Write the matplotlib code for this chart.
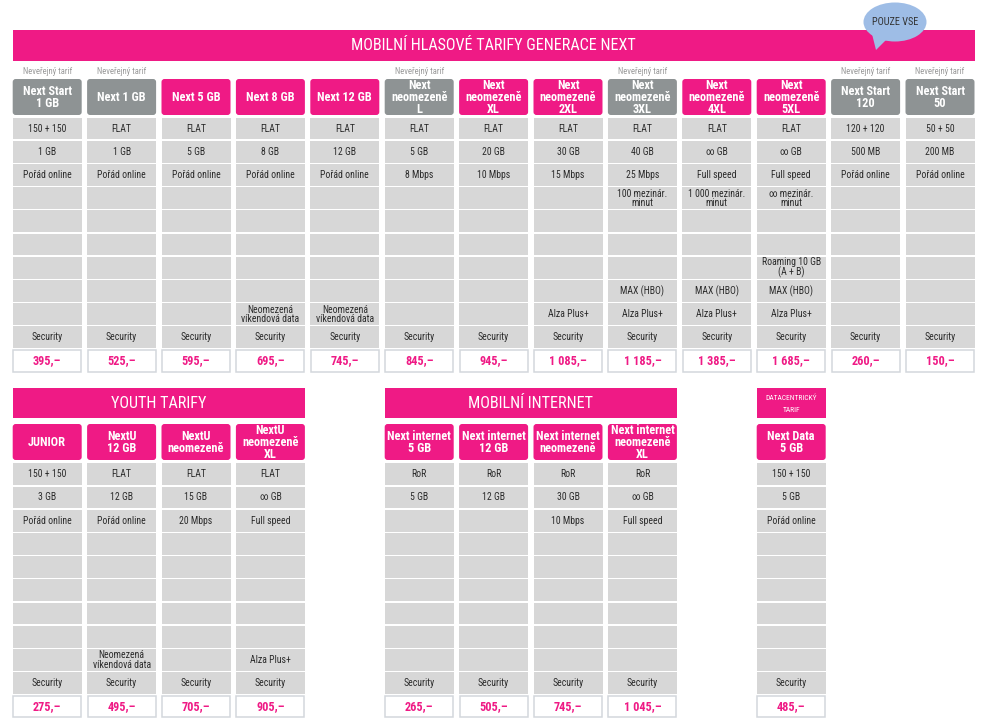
import matplotlib.pyplot as plt
from matplotlib.patches import Rectangle, FancyBboxPatch, Ellipse, Polygon

plt.rcParams["font.family"] = ["Roboto Condensed", "DejaVu Sans"]

PINK = "#ef1a85"
GREY_HEAD = "#8e9394"
CELL = "#d7d7d7"
TXT = "#2b2b2b"

# --- data -------------------------------------------------------------
voice_names = ["Next Start\n1 GB", "Next 1 GB", "Next 5 GB", "Next 8 GB", "Next 12 GB",
               "Next\nneomezeně\nL", "Next\nneomezeně\nXL", "Next\nneomezeně\n2XL",
               "Next\nneomezeně\n3XL", "Next\nneomezeně\n4XL", "Next\nneomezeně\n5XL",
               "Next Start\n120", "Next Start\n50"]
voice_private = [True, True, False, False, False, True, False, False, True, False, False, True, True]
voice_calls = ["150 + 150", "FLAT", "FLAT", "FLAT", "FLAT", "FLAT", "FLAT", "FLAT", "FLAT",
               "FLAT", "FLAT", "120 + 120", "50 + 50"]
voice_data = ["1 GB", "1 GB", "5 GB", "8 GB", "12 GB", "5 GB", "20 GB", "30 GB", "40 GB",
              "∞ GB", "∞ GB", "500 MB", "200 MB"]
voice_speed = ["Pořád online", "Pořád online", "Pořád online", "Pořád online", "Pořád online",
               "8 Mbps", "10 Mbps", "15 Mbps", "25 Mbps", "Full speed", "Full speed",
               "Pořád online", "Pořád online"]
voice_intl = ["", "", "", "", "", "", "", "", "100 mezinár.\nminut", "1 000 mezinár.\nminut",
              "∞ mezinár.\nminut", "", ""]
voice_roaming = ["", "", "", "", "", "", "", "", "", "", "Roaming 10 GB\n(A + B)", "", ""]
voice_max = ["", "", "", "", "", "", "", "", "MAX (HBO)", "MAX (HBO)", "MAX (HBO)", "", ""]
voice_extra = ["", "", "", "Neomezená\nvíkendová data", "Neomezená\nvíkendová data", "", "",
               "Alza Plus+", "Alza Plus+", "Alza Plus+", "Alza Plus+", "", ""]
voice_prices = ["395,–", "525,–", "595,–", "695,–", "745,–", "845,–", "945,–", "1 085,–",
                "1 185,–", "1 385,–", "1 685,–", "260,–", "150,–"]

youth_names = ["JUNIOR", "NextU\n12 GB", "NextU\nneomezeně", "NextU\nneomezeně\nXL"]
youth_calls = ["150 + 150", "FLAT", "FLAT", "FLAT"]
youth_data = ["3 GB", "12 GB", "15 GB", "∞ GB"]
youth_speed = ["Pořád online", "Pořád online", "20 Mbps", "Full speed"]
youth_extra = ["", "Neomezená\nvíkendová data", "", "Alza Plus+"]
youth_prices = ["275,–", "495,–", "705,–", "905,–"]

inet_names = ["Next internet\n5 GB", "Next internet\n12 GB", "Next internet\nneomezeně",
              "Next internet\nneomezeně\nXL"]
inet_calls = ["RoR", "RoR", "RoR", "RoR"]
inet_data = ["5 GB", "12 GB", "30 GB", "∞ GB"]
inet_speed = ["", "", "10 Mbps", "Full speed"]
inet_prices = ["265,–", "505,–", "745,–", "1 045,–"]

dc_names = ["Next Data\n5 GB"]
dc_calls = ["150 + 150"]
dc_data = ["5 GB"]
dc_speed = ["Pořád online"]
dc_prices = ["485,–"]

# --- layout (pixel coordinates) ---------------------------------------
X0, PITCH, CW = 12.7, 74.4, 69.0
ROW_H = 23.2
N_ROWS = 10


def col_left(i):
    return X0 + i * PITCH


def build_rows(n, calls, data, speed, row4=None, row7=None, row8=None, row9=None):
    empty = [""] * n
    rows = []
    for k in range(n):
        rows.append([calls[k], data[k], speed[k],
                     (row4 or empty)[k], "", "",
                     (row7 or empty)[k], (row8 or empty)[k], (row9 or empty)[k],
                     "Security"])
    return rows


def draw_block(ax, cols, names, rows, prices, head_top, head_bot, rows_top, private=None):
    for j, c in enumerate(cols):
        x = col_left(c)
        grey = private is not None and private[j]
        ax.add_patch(FancyBboxPatch((x, head_top), CW, head_bot - head_top,
                                    boxstyle="round,pad=0,rounding_size=3",
                                    fc=GREY_HEAD if grey else PINK, ec="none"))
        ax.text(x + CW / 2, (head_top + head_bot) / 2 + 0.5, names[j], ha="center",
                va="center", color="white", fontsize=8.8, fontweight="bold",
                linespacing=0.86)
        if grey:
            ax.text(x + CW / 2, head_top - 7, "Neveřejný tarif", ha="center", va="center",
                    color="#9a9a9a", fontsize=6.2)
        for r in range(N_ROWS):
            y = rows_top + r * ROW_H
            ax.add_patch(Rectangle((x, y + 0.6), CW, ROW_H - 1.4, fc=CELL, ec="none"))
            txt = rows[j][r]
            if txt:
                ax.text(x + CW / 2, y + ROW_H / 2, txt, ha="center", va="center",
                        color=TXT, fontsize=7.0, linespacing=0.92)
        py = rows_top + N_ROWS * ROW_H + 1
        ax.add_patch(Rectangle((x + 0.5, py), CW - 1, 21.5, fc="white", ec="#d3d7dc", lw=1.1))
        ax.text(x + CW / 2, py + 11, prices[j], ha="center", va="center",
                color=PINK, fontsize=8.8, fontweight="bold")


def banner(ax, c0, c1, y0, y1, label, size):
    x = col_left(c0)
    w = col_left(c1) + CW - x
    ax.add_patch(Rectangle((x, y0), w, y1 - y0, fc=PINK, ec="none"))
    ax.text(x + w / 2, (y0 + y1) / 2 + 0.5, label, ha="center", va="center",
            color="white", fontsize=size)


fig = plt.figure(figsize=(9.94, 7.24), dpi=100)
ax = fig.add_axes([0, 0, 1, 1])
ax.set_xlim(0, 994)
ax.set_ylim(724, 0)
ax.axis("off")

# top section
banner(ax, 0, 12, 29.5, 60.5, "MOBILNÍ HLASOVÉ TARIFY GENERACE NEXT", 11.6)
voice_rows = build_rows(13, voice_calls, voice_data, voice_speed, row4=voice_intl,
                        row7=voice_roaming, row8=voice_max, row9=voice_extra)
draw_block(ax, range(13), voice_names, voice_rows, voice_prices, 79, 115, 117,
           private=voice_private)

# bubble
ax.add_patch(Polygon([(872, 34), (888, 38), (876, 50)], closed=True, fc="#9ebde6", ec="none"))
ax.add_patch(Ellipse((895, 22), 63, 39, fc="#9ebde6", ec="none"))
ax.text(895, 22, "POUZE VSE", ha="center", va="center", color="#333333", fontsize=7.4)

# youth
banner(ax, 0, 3, 388, 418, "YOUTH TARIFY", 11.6)
youth_rows = build_rows(4, youth_calls, youth_data, youth_speed, row9=youth_extra)
draw_block(ax, range(4), youth_names, youth_rows, youth_prices, 424, 460, 462.7)

# mobile internet
banner(ax, 5, 8, 388, 418, "MOBILNÍ INTERNET", 11.6)
inet_rows = build_rows(4, inet_calls, inet_data, inet_speed)
draw_block(ax, range(5, 9), inet_names, inet_rows, inet_prices, 424, 460, 462.7)

# data-centric
xd = col_left(10)
ax.add_patch(Rectangle((xd, 388), CW, 30, fc=PINK, ec="none"))
ax.text(xd + CW / 2, 398, "DATACENTRICKÝ", ha="center", va="center", color="white", fontsize=5.4)
ax.text(xd + CW / 2, 410, "TARIF", ha="center", va="center", color="white", fontsize=5.4)
dc_rows = build_rows(1, dc_calls, dc_data, dc_speed)
draw_block(ax, [10], dc_names, dc_rows, dc_prices, 424, 460, 462.7)

fig.savefig("out.png", dpi=100)
